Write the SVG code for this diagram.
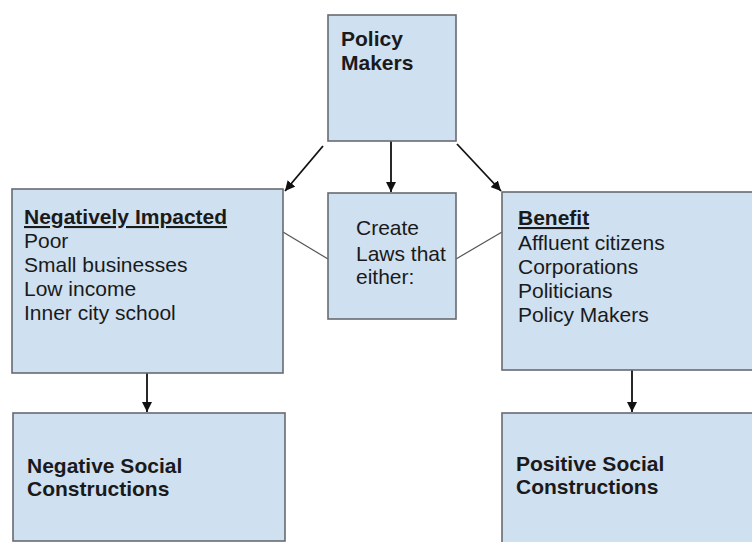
<svg xmlns="http://www.w3.org/2000/svg" width="752" height="542" viewBox="0 0 752 542">
  <style>
    .box { fill: #cfe0f1; stroke: #676b70; stroke-width: 1.6; }
    .t { font-family: "Liberation Sans", Arial, sans-serif; font-size: 21px; fill: #1a1a1a; }
    .b { font-weight: bold; }
    .u { text-decoration: underline; }
    .arrow { stroke: #111; stroke-width: 1.8; fill: none; marker-end: url(#head); }
    .link { stroke: #555; stroke-width: 1.2; fill: none; }
  </style>
  <defs>
    <marker id="head" viewBox="0 0 10 10" refX="10" refY="5" markerWidth="10" markerHeight="10" markerUnits="userSpaceOnUse" orient="auto">
      <path d="M0,0 L10,5 L0,10 z" fill="#111"/>
    </marker>
  </defs>
  <rect width="752" height="542" fill="#ffffff"/>

  <g id="connectors">
    <line class="arrow" x1="323" y1="146" x2="285" y2="191"/>
    <line class="arrow" x1="391" y1="141" x2="391" y2="192"/>
    <line class="arrow" x1="457" y1="144" x2="501" y2="191"/>
    <line class="link" x1="283" y1="232" x2="328" y2="259"/>
    <line class="link" x1="456" y1="259" x2="502" y2="232"/>
    <line class="arrow" x1="147" y1="373" x2="147" y2="412"/>
    <line class="arrow" x1="632" y1="370" x2="632" y2="412"/>
  </g>

  <g id="policy-makers">
    <rect class="box" x="328" y="15" width="128" height="126"/>
    <text class="t b" x="341" y="46">Policy</text>
    <text class="t b" x="341" y="70">Makers</text>
  </g>

  <g id="negatively-impacted">
    <rect class="box" x="12" y="189" width="271" height="184"/>
    <text class="t b u" x="24" y="224">Negatively Impacted</text>
    <text class="t" x="24" y="248">Poor</text>
    <text class="t" x="24" y="272">Small businesses</text>
    <text class="t" x="24" y="296">Low income</text>
    <text class="t" x="24" y="320">Inner city school</text>
  </g>

  <g id="create-laws">
    <rect class="box" x="328" y="193" width="128" height="126"/>
    <text class="t" x="356" y="235">Create</text>
    <text class="t" x="356" y="261">Laws that</text>
    <text class="t" x="356" y="284">either:</text>
  </g>

  <g id="benefit">
    <rect class="box" x="502" y="192" width="260" height="178"/>
    <text class="t b u" x="518" y="225">Benefit</text>
    <text class="t" x="518" y="250">Affluent citizens</text>
    <text class="t" x="518" y="274">Corporations</text>
    <text class="t" x="518" y="298">Politicians</text>
    <text class="t" x="518" y="322">Policy Makers</text>
  </g>

  <g id="negative-social-constructions">
    <rect class="box" x="13" y="413" width="272" height="128"/>
    <text class="t b" x="27" y="473">Negative Social</text>
    <text class="t b" x="27" y="496">Constructions</text>
  </g>

  <g id="positive-social-constructions">
    <rect class="box" x="502" y="413" width="260" height="140"/>
    <text class="t b" x="516" y="471">Positive Social</text>
    <text class="t b" x="516" y="494">Constructions</text>
  </g>
</svg>
